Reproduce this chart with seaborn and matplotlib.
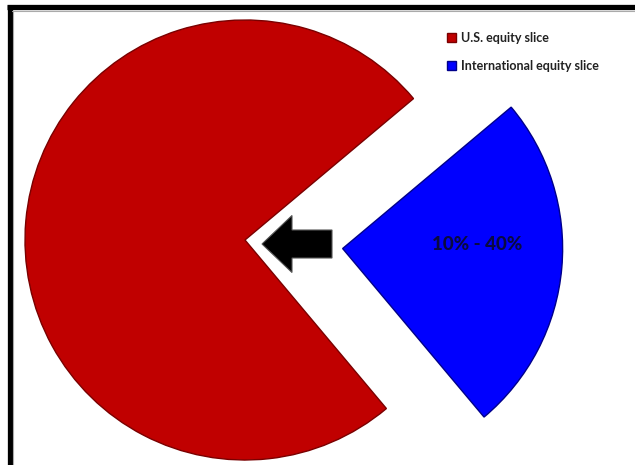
import matplotlib
matplotlib.use("Agg")
import matplotlib.pyplot as plt
from matplotlib.lines import Line2D
from matplotlib.patches import FancyArrow
import seaborn as sns

# Portfolio split between the two equity slices
labels = ["U.S. equity slice", "International equity slice"]
shares = [75, 25]
range_label = "10% - 40%"
colors = ["#C00000", "#0000FF"]
edge_colors = ["#7a0000", "#00008a"]

sns.set_theme(style="white")
plt.rcParams["font.family"] = ["Lato", "DejaVu Sans"]

W, H = 635, 465
fig = plt.figure(figsize=(W / 100, H / 100), dpi=100)
ax = fig.add_axes([0, 0, 1, 1])

cx, cy, r = 245, 225, 220
wedges, texts = ax.pie(
    shares,
    colors=colors,
    startangle=40,
    counterclock=True,
    explode=[0, 98],          # explode is given in data units here
    center=(cx, cy),
    radius=r,
    wedgeprops=dict(linewidth=1.0),
)
for w, ec in zip(wedges, edge_colors):
    w.set_edgecolor(ec)

# Range label inside the exploded slice
ax.text(cx + 232, cy - 5, range_label, ha="center", va="center",
        fontsize=13.5, fontweight="black", color="#0a0a40")

# Arrow pointing from the international slice toward the U.S. slice
arrow = FancyArrow(cx + 87, cy - 4, -70, 0, width=28, head_width=57,
                   head_length=30, length_includes_head=True,
                   facecolor="black", edgecolor="#555555", linewidth=0.8)
ax.add_patch(arrow)

ax.set_xlim(0, W)
ax.set_ylim(0, H)
ax.set_aspect("equal")
ax.axis("off")

ax.legend(wedges, labels, loc="upper left",
          bbox_to_anchor=(447 / W, 1 - 32 / H), bbox_transform=fig.transFigure,
          frameon=False, prop=dict(weight="bold", size=9),
          handlelength=0.7, handleheight=0.7, handletextpad=0.4,
          labelspacing=1.3, borderpad=0, borderaxespad=0)
for t in ax.get_legend().get_texts():
    t.set_color("#222222")

# Frame lines along the top and left edges
fig.add_artist(Line2D([7 / W, 1], [1 - 7.5 / H, 1 - 7.5 / H], color="black",
                      linewidth=3.8, transform=fig.transFigure, solid_capstyle="butt"))
fig.add_artist(Line2D([9.5 / W, 9.5 / W], [0, 1 - 5 / H], color="black",
                      linewidth=3.8, transform=fig.transFigure, solid_capstyle="butt"))
fig.add_artist(Line2D([12 / W, 1], [1 - 11 / H, 1 - 11 / H], color="#aaaaaa",
                      linewidth=0.8, transform=fig.transFigure))
fig.add_artist(Line2D([13 / W, 13 / W], [0, 1 - 11 / H], color="#aaaaaa",
                      linewidth=0.8, transform=fig.transFigure))

fig.savefig("out.png", dpi=100)
